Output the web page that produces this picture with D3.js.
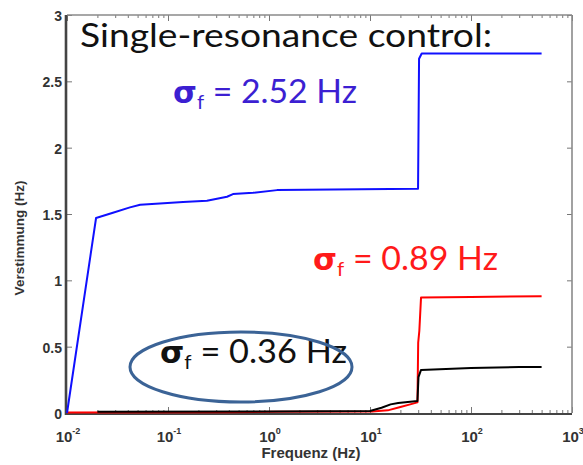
<!DOCTYPE html>
<html><head><meta charset="utf-8">
<script src="https://cdn.jsdelivr.net/npm/d3@7/dist/d3.min.js"></script>
<style>html,body{margin:0;padding:0;background:#fff;}svg{display:block;}</style>
</head><body>
<svg id="c" width="583" height="465"></svg>
<script>
// ---- data ----
const xTickValues = [0.01, 0.1, 1, 10, 100, 1000];
const xTickExponents = ["-2", "-1", "0", "1", "2", "3"];
const yTickValues = [0, 0.5, 1, 1.5, 2, 2.5, 3];
const yTickLabels = ["0", "0.5", "1", "1.5", "2", "2.5", "3"];

const blueFreq = [0.01, 0.0194, 0.0285, 0.042, 0.053, 0.083, 0.141, 0.243, 0.384, 0.44, 0.695, 1.2, 29.9, 30.6, 32.5, 500];
const blueVal  = [0, 1.47, 1.51, 1.55, 1.57, 1.58, 1.59, 1.60, 1.63, 1.65, 1.66, 1.68, 1.69, 2.67, 2.71, 2.71];

const redFreq = [0.01, 0.4, 1.2, 10.5, 15, 20, 25, 29.5, 30, 30.8, 32, 100, 500];
const redVal  = [0.003, 0.005, 0.01, 0.012, 0.02, 0.045, 0.065, 0.08, 0.53, 0.62, 0.87, 0.875, 0.88];

const blackFreq = [0.02, 1, 10, 13, 16, 19, 29.5, 30.2, 32, 100, 300, 500];
const blackVal  = [0.01, 0.012, 0.015, 0.04, 0.065, 0.075, 0.09, 0.27, 0.325, 0.34, 0.347, 0.347];

const titleText = "Single-resonance control:";
const annotValues = ["2.52", "0.89", "0.36"];
const annotColors = ["#3c1fd2", "#ff1a1a", "#111111"];
const lineColors = ["#1010ff", "#ff0000", "#000000"];

// ---- chart ----
const svg = d3.select("#c");
const L = 67, R = 572, T = 15, B = 413;
const x = d3.scaleLog().domain([0.01, 1000]).range([L, R]);
const y = d3.scaleLinear().domain([0, 3]).range([B, T]);

const minor = [];
for (let e = -2; e < 3; e++) for (let k = 2; k <= 9; k++) minor.push(k * Math.pow(10, e));

const gB = svg.append("g").attr("transform", `translate(0,${B})`);
gB.call(d3.axisBottom(x).tickValues(xTickValues).tickSizeInner(-6).tickSizeOuter(0).tickFormat(""));
gB.append("g").call(d3.axisBottom(x).tickValues(minor).tickSizeInner(-3).tickSizeOuter(0).tickFormat(""));
const gT = svg.append("g").attr("transform", `translate(0,${T})`);
gT.call(d3.axisTop(x).tickValues(xTickValues).tickSizeInner(-6).tickSizeOuter(0).tickFormat(""));
gT.append("g").call(d3.axisTop(x).tickValues(minor).tickSizeInner(-3).tickSizeOuter(0).tickFormat(""));
const gL = svg.append("g").attr("transform", `translate(${L},0)`);
gL.call(d3.axisLeft(y).tickValues(yTickValues).tickSizeInner(-5).tickSizeOuter(0).tickFormat(""));
const gR = svg.append("g").attr("transform", `translate(${R},0)`);
gR.call(d3.axisRight(y).tickValues(yTickValues).tickSizeInner(-5).tickSizeOuter(0).tickFormat(""));
svg.selectAll(".domain").remove();
svg.selectAll(".tick line").attr("stroke", "#777").attr("stroke-width", 1);

// frame
svg.append("line").attr("x1", L).attr("x2", R).attr("y1", T).attr("y2", T).attr("stroke", "#8a8a8a").attr("stroke-width", 1.6);
svg.append("line").attr("x1", R).attr("x2", R).attr("y1", T).attr("y2", B).attr("stroke", "#8a8a8a").attr("stroke-width", 1.6);
svg.append("line").attr("x1", L).attr("x2", R).attr("y1", B + 1).attr("y2", B + 1).attr("stroke", "#444").attr("stroke-width", 2);
svg.append("line").attr("x1", L - 1).attr("x2", L - 1).attr("y1", T).attr("y2", B + 2).attr("stroke", "#444").attr("stroke-width", 2.6);

// tick labels
const lblFont = "'Liberation Sans', Arial, sans-serif";
const yl = svg.append("g").attr("font-family", lblFont).attr("font-weight", "bold").attr("font-size", 14).attr("fill", "#333");
yl.selectAll("text").data(yTickValues).join("text")
  .attr("x", L - 5).attr("y", d => y(d) + 6).attr("text-anchor", "end")
  .text((d, i) => yTickLabels[i]);

const xl = svg.append("g").attr("font-family", lblFont).attr("font-weight", "bold").attr("fill", "#333");
xTickValues.forEach((v, i) => {
  const t = xl.append("text").attr("x", x(v) + 1).attr("y", B + 29).attr("text-anchor", "middle").attr("font-size", 15);
  t.append("tspan").text("10");
  t.append("tspan").attr("font-size", 9).attr("dy", -8).text(xTickExponents[i]);
});

svg.append("text").attr("x", 311).attr("y", B + 45).attr("text-anchor", "middle")
  .attr("font-family", lblFont).attr("font-weight", "bold").attr("font-size", 15).attr("fill", "#333")
  .text("Frequenz (Hz)");
svg.append("text").attr("transform", `translate(24,238) rotate(-90)`).attr("text-anchor", "middle")
  .attr("font-family", lblFont).attr("font-weight", "bold").attr("font-size", 13.5).attr("fill", "#333")
  .text("Verstimmung (Hz)");

// lines
const line = d3.line().x(d => x(d[0])).y(d => y(d[1]));
const series = [
  d3.zip(blueFreq, blueVal),
  d3.zip(redFreq, redVal),
  d3.zip(blackFreq, blackVal)
];
[1, 2, 0].forEach(i => {
  svg.append("path").datum(series[i]).attr("d", line)
    .attr("fill", "none").attr("stroke", lineColors[i]).attr("stroke-width", 2)
    .attr("stroke-linejoin", "round");
});

// annotations
const aFont = "Lato, 'Open Sans', sans-serif";
svg.append("text").attr("x", 80).attr("y", 47).attr("font-family", aFont).attr("font-size", 33)
  .attr("fill", "#111").attr("textLength", 412).attr("lengthAdjust", "spacingAndGlyphs").text(titleText);

const annotPos = [[173, 103, 184], [313, 270, 185], [160, 363, 187]];
annotValues.forEach((v, i) => {
  const [ax, ay, w] = annotPos[i];
  const t = svg.append("text").attr("x", ax).attr("y", ay).attr("font-family", aFont).attr("font-size", 33)
    .attr("fill", annotColors[i]).attr("textLength", w).attr("lengthAdjust", "spacingAndGlyphs");
  t.append("tspan").attr("font-weight", "bold").attr("font-family", "'DejaVu Sans', sans-serif").attr("font-size", 30).text("σ");
  t.append("tspan").attr("font-size", 20).attr("dy", 6).text("f");
  t.append("tspan").attr("dy", -6).text(" = " + v + " Hz");
});

svg.append("ellipse").attr("cx", 241).attr("cy", 367).attr("rx", 111).attr("ry", 35)
  .attr("fill", "none").attr("stroke", "#3b6396").attr("stroke-width", 3);
</script>
</body></html>
